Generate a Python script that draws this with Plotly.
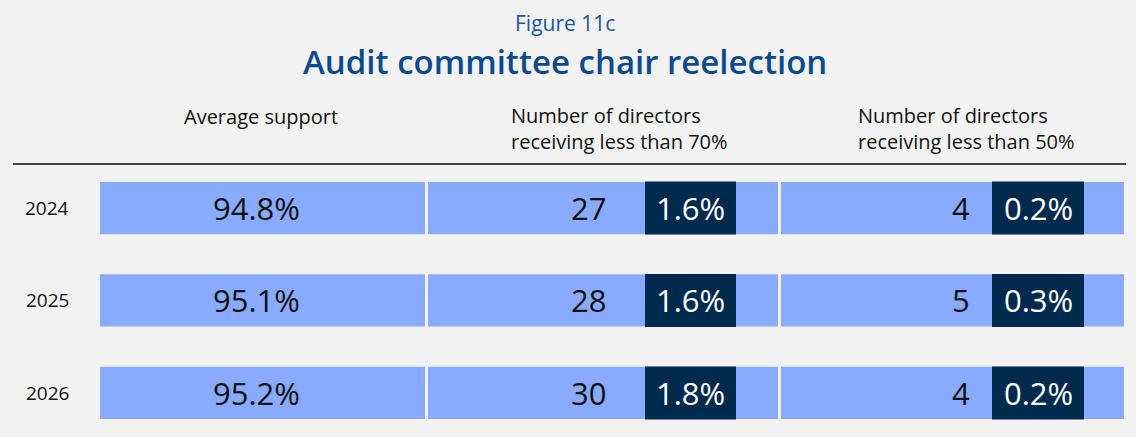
import plotly.graph_objects as go

# data
years = ["2024", "2025", "2026"]
avg_support = ["94.8%", "95.1%", "95.2%"]
n_below70 = ["27", "28", "30"]
pct_below70 = ["1.6%", "1.6%", "1.8%"]
n_below50 = ["4", "5", "4"]
pct_below50 = ["0.2%", "0.3%", "0.2%"]
headers = ["Average support",
           "Number of directors<br>receiving less than 70%",
           "Number of directors<br>receiving less than 50%"]

W, H = 1136, 437
FONT = "Open Sans"
LIGHT = "#88abff"
DARK = "#002a4e"
BLUE = "#0b4a8e"
INK = "#111111"

# layout of the cells (pixel units on the x axis)
cols = [(100, 425), (428, 778), (781, 1124)]
boxes = [(645, 736), (992, 1084)]
num_right = [608, 972]


def py(px):
    return 1 - px / H


fig = go.Figure()

for x0, x1 in cols:
    fig.add_trace(go.Bar(y=years, x=[x1 - x0] * len(years), base=[x0] * len(years),
                         orientation="h", width=0.565, marker_color=LIGHT,
                         marker_line_width=0, hoverinfo="skip"))
for x0, x1 in boxes:
    fig.add_trace(go.Bar(y=years, x=[x1 - x0] * len(years), base=[x0] * len(years),
                         orientation="h", width=0.575, marker_color=DARK,
                         marker_line_width=0, hoverinfo="skip"))

ann = []
for i, yr in enumerate(years):
    ann.append(dict(x=47, y=i, text=yr, showarrow=False, xanchor="center",
                    font=dict(size=19, color=INK)))
    ann.append(dict(x=(cols[0][0] + cols[0][1]) / 2 - 6, y=i, text=avg_support[i],
                    showarrow=False, xanchor="center", font=dict(size=31, color=INK)))
    for k, (nums, pcts) in enumerate([(n_below70, pct_below70), (n_below50, pct_below50)]):
        ann.append(dict(x=num_right[k], y=i, text=nums[i], showarrow=False,
                        xanchor="right", font=dict(size=31, color=INK)))
        ann.append(dict(x=(boxes[k][0] + boxes[k][1]) / 2, y=i, text=pcts[i],
                        showarrow=False, xanchor="center", font=dict(size=31, color="white")))

ann.append(dict(xref="paper", yref="paper", x=0.4975, y=py(23), text="Figure 11c",
                showarrow=False, yanchor="middle", font=dict(size=21, color="#1b55a0")))
ann.append(dict(xref="paper", yref="paper", x=0.4975, y=py(62), text="Audit committee chair reelection",
                showarrow=False, yanchor="middle", font=dict(size=33, color=BLUE, weight=600)))
ann.append(dict(x=261, y=py(116), yref="paper", text=headers[0], showarrow=False,
                xanchor="center", yanchor="middle", font=dict(size=20, color=INK)))
for hx, txt in zip([509, 856], headers[1:]):
    ann.append(dict(x=hx, y=py(128.5), yref="paper", text=txt, showarrow=False,
                    xanchor="left", yanchor="middle", align="left",
                    font=dict(size=20, color=INK)))

fig.update_layout(
    width=W, height=H, margin=dict(l=0, r=0, t=0, b=0),
    paper_bgcolor="#f2f2f2", plot_bgcolor="#f2f2f2",
    barmode="overlay", showlegend=False,
    font=dict(family=FONT),
    xaxis=dict(range=[0, W], visible=False, fixedrange=True),
    yaxis=dict(type="category", categoryorder="array", categoryarray=years,
               range=[2.476, -2.249], visible=False, fixedrange=True),
    annotations=ann,
    shapes=[dict(type="line", xref="x", yref="paper", x0=13, x1=1126,
                 y0=py(164), y1=py(164), line=dict(color="#444444", width=2))],
)

fig.write_html("out.html", config={"displayModeBar": False},
               post_script="document.body.style.margin='0px';")
